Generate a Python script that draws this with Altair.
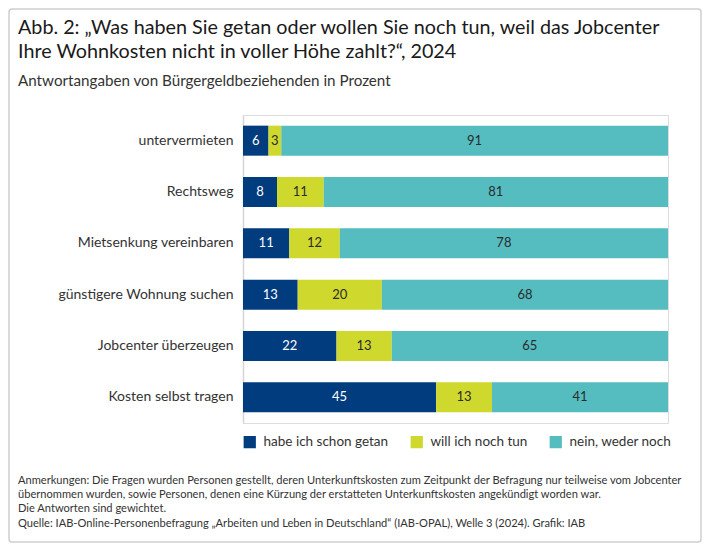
import altair as alt
import pandas as pd

FONT = "Lato"

categories = ["untervermieten", "Rechtsweg", "Mietsenkung vereinbaren",
              "günstigere Wohnung suchen", "Jobcenter überzeugen", "Kosten selbst tragen"]
series = ["habe ich schon getan", "will ich noch tun", "nein, weder noch"]
colors = ["#003c7e", "#cfd82c", "#55bcc0"]
text_colors = ["#ffffff", "#2b2b2b", "#2b2b2b"]

done = [6, 8, 11, 13, 22, 45]
planned = [3, 11, 12, 20, 13, 13]
neither = [91, 81, 78, 68, 65, 41]

title1 = "Abb. 2: „Was haben Sie getan oder wollen Sie noch tun, weil das Jobcenter"
title2 = "Ihre Wohnkosten nicht in voller Höhe zahlt?“, 2024"
subtitle = "Antwortangaben von Bürgergeldbeziehenden in Prozent"
notes = ["Anmerkungen: Die Fragen wurden Personen gestellt, deren Unterkunftskosten zum Zeitpunkt der Befragung nur teilweise vom Jobcenter",
         "übernommen wurden, sowie Personen, denen eine Kürzung der erstatteten Unterkunftskosten angekündigt worden war.",
         "Die Antworten sind gewichtet.",
         "Quelle: IAB-Online-Personenbefragung „Arbeiten und Leben in Deutschland“ (IAB-OPAL), Welle 3 (2024). Grafik: IAB"]

rows = []
for i, c in enumerate(categories):
    for j, (s, v) in enumerate(zip(series, [done[i], planned[i], neither[i]])):
        rows.append({"cat": c, "series": s, "value": v, "order": j, "tcolor": text_colors[j]})
df = pd.DataFrame(rows)

W, H = 425, 308
TOTAL_W, TOTAL_H = 694, 535
PAD_L, PAD_T = 235, 107
OY = 8 + PAD_T  # page y of plot top

base = alt.Chart(df).transform_stack(
    stack="value", groupby=["cat"], sort=[alt.SortField("order")],
    as_=["x0", "x1"], offset="normalize"
).transform_calculate(mid="(datum.x0 + datum.x1) / 2")

y_enc = alt.Y("cat:N", sort=categories, title=None,
              scale=alt.Scale(paddingInner=0.415, paddingOuter=0.2075),
              axis=alt.Axis(labelFont=FONT, labelFontSize=14, labelColor="#333333",
                            labelPadding=10, ticks=False, domainColor="#d5d5d5",
                            domainWidth=1.5, labelLimit=300))
x_scale = alt.Scale(domain=[0, 1])

bars = base.mark_bar().encode(
    x=alt.X("x0:Q", scale=x_scale, axis=None),
    x2="x1:Q",
    y=y_enc,
    color=alt.Color("series:N", sort=series,
                    scale=alt.Scale(domain=series, range=colors),
                    legend=alt.Legend(title=None, orient="none", legendX=0,
                                      legendY=443 - OY - 8,
                                      direction="horizontal", symbolType="square",
                                      symbolSize=150, symbolStrokeWidth=0,
                                      symbolOpacity=1, labelFont=FONT, labelFontSize=13.5,
                                      labelColor="#333333", columnPadding=21,
                                      labelOffset=7)),
)

labels = base.mark_text(font=FONT, fontSize=13).encode(
    x=alt.X("mid:Q", scale=x_scale, axis=None),
    y=alt.Y("cat:N", sort=categories),
    text="value:Q",
    color=alt.Color("tcolor:N", scale=None, legend=None),
)

def txt(s, x, page_y, size, color="#1a1a1a"):
    d = pd.DataFrame({"t": [s]})
    return alt.Chart(d).mark_text(font=FONT, fontSize=size, align="left",
                                  baseline="middle", color=color).encode(
        x=alt.value(x), y=alt.value(page_y - OY), text="t:N")

X0 = 10 - PAD_L
border = alt.Chart(pd.DataFrame({"a": [0]})).mark_rect(
    fillOpacity=0, stroke="#cfcfcf", strokeWidth=1.5, cornerRadius=3
).encode(x=alt.value(-PAD_L + 1), x2=alt.value(TOTAL_W - PAD_L - 1),
         y=alt.value(-PAD_T + 1), y2=alt.value(TOTAL_H - PAD_T - 1))

layers = [
    border,
    bars,
    labels,
    txt(title1, X0, 28, 19.75),
    txt(title2, X0, 52, 19.75),
    txt(subtitle, X0, 81, 15.2, "#333333"),
]
for k, (line, py) in enumerate(zip(notes, [481, 495, 509, 524])):
    layers.append(txt(line, X0, py, 11.1, "#333333"))

chart = alt.layer(*layers).properties(
    width=W, height=H,
    autosize=alt.AutoSizeParams(type="none"),
    padding={"left": PAD_L, "top": PAD_T, "right": TOTAL_W - PAD_L - W,
             "bottom": TOTAL_H - PAD_T - H},
).configure_view(stroke=None).configure(background="#ffffff")

chart.save("out.html", embed_options={"renderer": "svg", "actions": False})
